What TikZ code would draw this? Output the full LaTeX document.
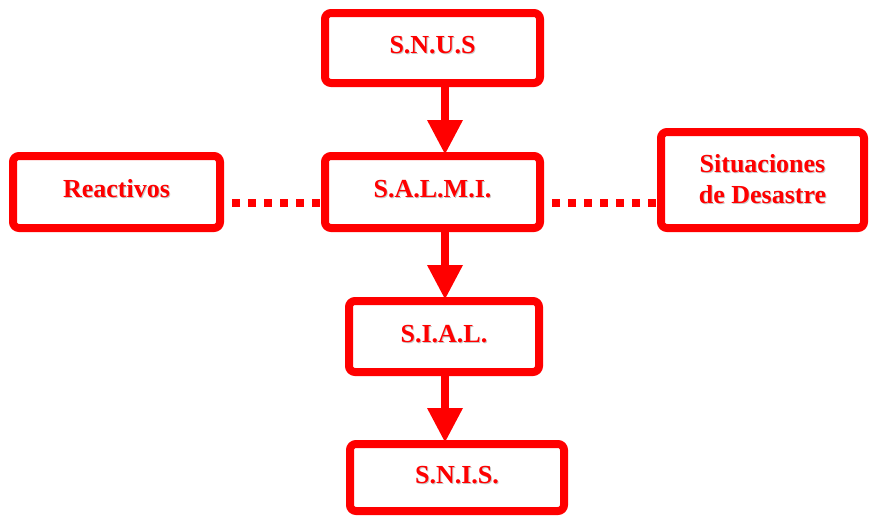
\documentclass[tikz,border=0pt]{standalone}
\usepackage{fontspec}
\setmainfont{Liberation Serif}
\usetikzlibrary{arrows.meta}
\definecolor{chartred}{RGB}{255,0,0}
\newcommand{\shadowed}[1]{\makebox[0pt][l]{\hspace{1pt}\raisebox{-1pt}{\textcolor{black!22}{#1}}}#1}

\begin{document}
\begin{tikzpicture}[x=1pt,y=-1pt,
    every node/.style={font=\fontsize{26}{31}\selectfont\bfseries,text=chartred},
    unit/.style={draw=chartred,line width=8pt,rounded corners=6pt,inner sep=0pt,
      text height=19pt,text depth=8pt},
    flow/.style={draw=chartred,line width=8.5pt,
      -{Triangle[length=34pt,width=36pt,line width=0pt]}},
    link/.style={draw=chartred,line width=8pt,dash pattern=on 8pt off 8pt,dash phase=8pt}]
  \useasboundingbox (0,0) rectangle (870,517);

  % main chain
  \node[unit,minimum width=215pt,minimum height=70pt] (snus) at (432.5,48) {\shadowed{S.N.U.S}};
  \node[unit,minimum width=215pt,minimum height=72pt] (salmi) at (432.5,192) {\shadowed{S.A.L.M.I.}};
  \node[unit,minimum width=190pt,minimum height=71pt] (sial) at (444,336.5) {\shadowed{S.I.A.L.}};
  \node[unit,minimum width=214pt,minimum height=67pt] (snis) at (457,477.5) {\shadowed{S.N.I.S.}};

  % side boxes
  \node[unit,minimum width=207pt,minimum height=72pt] (reactivos) at (116.5,192) {\shadowed{Reactivos}};
  \node[unit,minimum width=203pt,minimum height=96pt,align=center,text height={},text depth={}]
    (desastre) at (762.5,180) {\shadowed{Situaciones}\\\shadowed{de Desastre}};

  \draw[flow] ([xshift=12.5pt]snus.south) -- ([xshift=12.5pt,yshift=-2pt]salmi.north);
  \draw[flow] ([xshift=12.5pt]salmi.south) -- ([xshift=1pt,yshift=-2pt]sial.north);
  \draw[flow] ([xshift=1pt]sial.south) -- ([xshift=-12pt,yshift=-2pt]snis.north);

  \draw[link] ([yshift=-11pt]reactivos.east) -- ([yshift=-11pt]reactivos.east -| salmi.west);
  \draw[link] ([yshift=-11pt]salmi.east) -- ([yshift=-11pt]salmi.east -| desastre.west);
\end{tikzpicture}
\end{document}
